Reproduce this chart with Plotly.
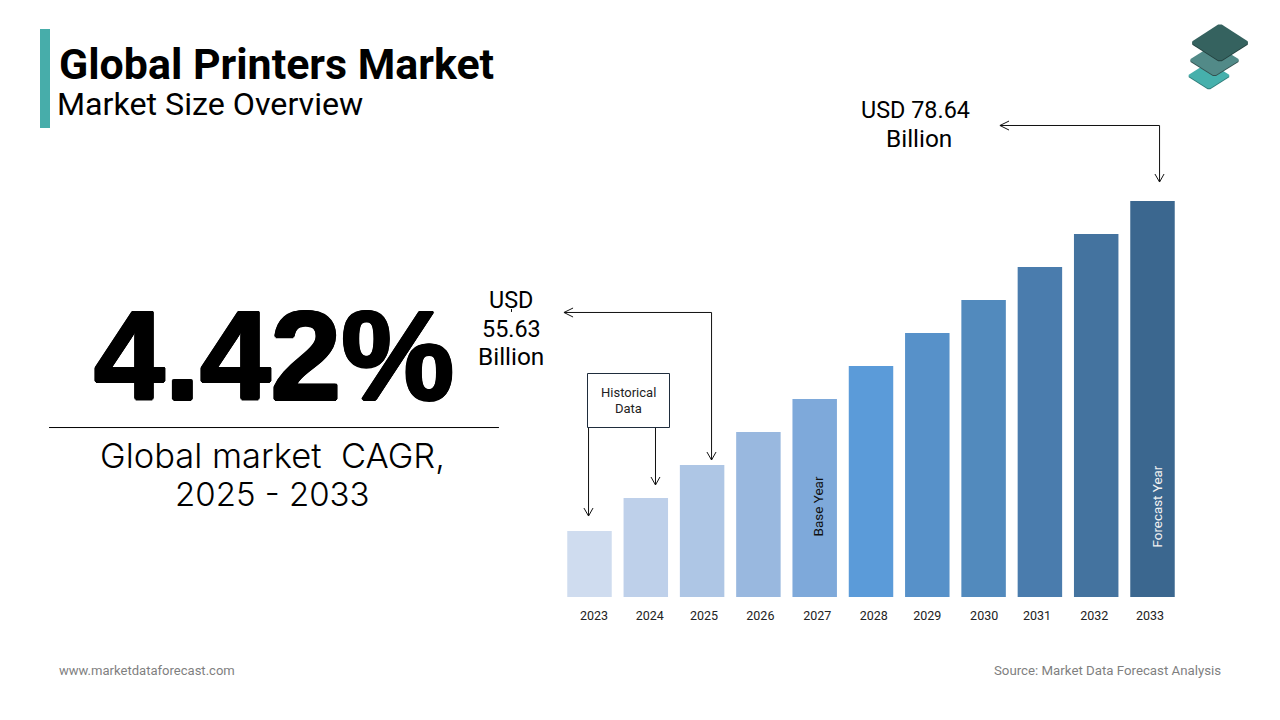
import plotly.graph_objects as go

W = 1280
H = 720

years = [2023, 2024, 2025, 2026, 2027, 2028, 2029, 2030, 2031, 2032, 2033]
# bars are illustrative in the source, values are in steps of equal height
bar_values = [2, 3, 4, 5, 6, 7, 8, 9, 10, 11, 12]
bar_colors = ['#cfdcef', '#bed0ea', '#aec6e5', '#99b8df', '#7ea9da', '#5b9bd9',
              '#5791c9', '#528abd', '#4a7cad', '#44739f', '#3b678f']
tick_labels = ['2023', '2024', '2025', '2026', '2027', '2028', '2029', '2030', '2031', '2032', '2033']
# the labels are not quite centred under the bars in the source
tick_nudge = [0.08, 0.07, 0.035, 0.035, 0.045, 0.05, 0.0, 0.01, -0.05, -0.035, -0.045]

ink = '#000000'
grey = '#7f7f7f'


def px(x):
    return x / W


def py(y):
    return 1 - y / H


def tile(cx, cy, rx, ry, color):
    # flat diamond with the corners cut a little, so it reads as rounded
    c = 0.06
    pts = [(cx - rx * (1 - c), cy - ry * c), (cx - rx * c, cy - ry * (1 - c)),
           (cx + rx * c, cy - ry * (1 - c)), (cx + rx * (1 - c), cy - ry * c),
           (cx + rx * (1 - c), cy + ry * c), (cx + rx * c, cy + ry * (1 - c)),
           (cx - rx * c, cy + ry * (1 - c)), (cx - rx * (1 - c), cy + ry * c)]
    path = 'M' + ' L'.join('%.4f,%.4f' % (px(x), py(y)) for x, y in pts) + ' Z'
    return dict(type='path', xref='paper', yref='paper', path=path, fillcolor=color,
                line=dict(width=0), layer='above')


def stroke(points, color='#111111', width=1):
    path = 'M' + ' L'.join('%.4f,%.4f' % (px(x), py(y)) for x, y in points)
    return dict(type='path', xref='paper', yref='paper', path=path,
                line=dict(color=color, width=width), layer='above')


def label(text, x, y, size, family='Roboto', color=ink, anchor='center', angle=0, weight=None, shadow=None):
    return dict(text=text, x=px(x), y=py(y), xref='paper', yref='paper', showarrow=False,
                xanchor=anchor, yanchor='middle', textangle=angle, borderpad=0, borderwidth=0,
                font=dict(family=family, size=size, color=color, weight=weight, shadow=shadow))


fig = go.Figure(go.Bar(x=years, y=bar_values, width=0.79, marker=dict(color=bar_colors, line=dict(width=0)),
                       hoverinfo='skip'))

shapes = [
    dict(type='rect', xref='paper', yref='paper', x0=px(40), x1=px(50), y0=py(128), y1=py(29),
         fillcolor='#47adaa', line=dict(width=0)),
    stroke([(49, 427.5), (499, 427.5)], '#000000', 1),
    dict(type='rect', xref='paper', yref='paper', x0=px(587.5), x1=px(669.5), y0=py(427.5), y1=py(373.5),
         fillcolor='white', line=dict(color='#1f2d3d', width=1)),
    # arrows
    stroke([(1000, 125.5), (1159.5, 125.5), (1159.5, 182)]),
    stroke([(1009, 121), (1000, 125.5), (1009, 130)]),
    stroke([(1155, 174), (1159.5, 182), (1164, 174)]),
    stroke([(564, 312.5), (711.5, 312.5), (711.5, 460)]),
    stroke([(573, 308), (564, 312.5), (573, 317)]),
    stroke([(707, 452), (711.5, 460), (716, 452)]),
    stroke([(588.5, 428), (588.5, 516)]),
    stroke([(584, 508), (588.5, 516), (593, 508)]),
    stroke([(655.5, 428), (655.5, 485)]),
    stroke([(651, 477), (655.5, 485), (660, 477)]),
    stroke([(511.5, 309), (511.5, 312)]),
    # logo, stacked from the bottom up, each tile sits on a thin dark edge
    tile(1209, 76.5, 21.5, 13.5, '#2f7a77'),
    tile(1209, 75.5, 21.5, 13.5, '#46b0ac'),
    tile(1214.5, 61, 25.5, 16, '#33504e'),
    tile(1214.5, 60, 25.5, 16, '#528a88'),
    tile(1220, 43.5, 29.5, 19, '#23403e'),
    tile(1220, 42.5, 29.5, 19, '#35625f'),
]

annotations = [
    label('Global Printers Market', 59, 64, 42.9, weight=700, anchor='left'),
    label('Market Size Overview', 57, 104, 32.2, anchor='left'),
    label('4.42%', 274, 355, 127, family='Liberation Sans', weight=700,
          shadow='1.5px 0 0 #000, -1.5px 0 0 #000, 0 1.5px 0 #000, 0 -1.5px 0 #000, '
                 '1px 1px 0 #000, -1px 1px 0 #000, 1px -1px 0 #000, -1px -1px 0 #000'),
    label('Global market&nbsp; CAGR,', 272.5, 455, 34.5, family='Inter', weight=300),
    label('2025 - 2033', 272, 494, 33, family='Inter', weight=300),
    label('USD 78.64', 915, 110, 23.4),
    label('Billion', 919, 138, 24.4),
    label('USD', 511, 300, 23.4),
    label('55.63', 511, 329, 23.4),
    label('Billion', 511, 356.5, 24.4),
    label('Historical', 628, 393, 13, color='#222222'),
    label('Data', 628, 408.5, 13, color='#222222'),
    label('Base Year', 817.5, 507, 13.5, color='#111111', angle=-90),
    label('Forecast Year', 1156.5, 507, 13.4, color='#f2f2f2', angle=-90),
    label('www.marketdataforecast.com', 59, 670, 13.05, color=grey, anchor='left'),
    label('Source: Market Data Forecast Analysis', 1221, 670, 13.25, color=grey, anchor='right'),
]

fig.update_layout(
    width=W, height=H, margin=dict(l=0, r=0, t=0, b=0),
    paper_bgcolor='white', plot_bgcolor='white', showlegend=False,
    shapes=shapes, annotations=annotations,
    xaxis=go.layout.XAxis(
        domain=[px(560), px(1180)],
        range=[2023 - 29.5 / 56.3, 2023 + 590.5 / 56.3],
        tickmode='array',
        tickvals=[y + n for y, n in zip(years, tick_nudge)],
        ticktext=tick_labels,
        tickfont=dict(family='Roboto', size=12.5, color='#222222'),
        ticks='outside', ticklen=7, tickcolor='rgba(0,0,0,0)',
        showgrid=False, zeroline=False, showline=False),
    yaxis=go.layout.YAxis(
        domain=[py(597), py(201)], range=[0, 12], visible=False),
)

fig.write_html("out.html", config=dict(displayModeBar=False),
               post_script="document.body.style.margin='0';document.body.style.overflow='hidden';")
